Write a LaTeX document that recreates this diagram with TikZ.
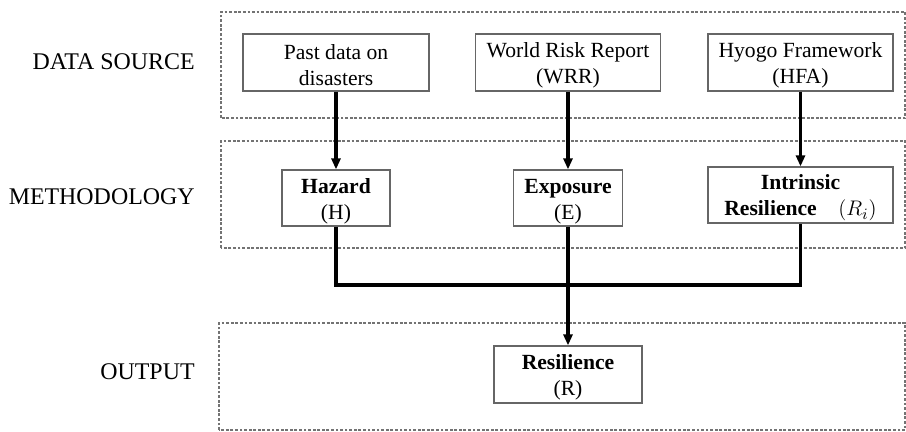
\documentclass[tikz,border=0pt]{standalone}
\usepackage{fontspec}
\setmainfont{Liberation Serif}
\usetikzlibrary{arrows.meta}

\newcommand{\topline}{\rule{0pt}{12pt}}

\tikzset{
  panel/.style={draw=black!55, line width=0.6pt, dash pattern=on 1.6pt off 1pt},
  box/.style={draw=black!60, line width=0.7pt, align=center, inner sep=0pt,
    font=\fontsize{12.3}{14.8}\selectfont},
  side/.style={anchor=east, inner sep=0pt, font=\fontsize{13.6}{16}\selectfont},
  link/.style={line width=1.9pt},
  flow/.style={link, -{Triangle[length=0.22cm,width=0.18cm]}}
}

\begin{document}
\begin{tikzpicture}
  \useasboundingbox (0,0) rectangle (18.12,8.62);
  % the three bands
  \draw[panel] (4.42,6.26) rectangle (18.10,8.38);
  \draw[panel] (4.42,3.66) rectangle (18.10,5.80);
  \draw[panel] (4.38,0.02) rectangle (18.10,2.16);
  \node[side] (l1) at (3.90,7.38) {DATA SOURCE};
  \node[side] (l2) at (3.90,4.68) {METHODOLOGY};
  \node[side] (l3) at (3.90,1.18) {OUTPUT};
  % data sources
  \node[box, minimum width=3.72cm, minimum height=1.14cm] (past) at (6.72,7.37) {\topline Past data on\\disasters};
  \node[box, minimum width=3.70cm, minimum height=1.14cm] (wrr) at (11.36,7.37) {\topline World Risk Report\\(WRR)};
  \node[box, minimum width=3.70cm, minimum height=1.14cm] (hfa) at (16.01,7.37) {\topline Hyogo Framework\\(HFA)};
  % methodology
  \node[box, minimum width=2.16cm, minimum height=1.12cm] (haz) at (6.72,4.66) {\topline\textbf{Hazard}\\(H)};
  \node[box, minimum width=2.18cm, minimum height=1.12cm] (expo) at (11.36,4.66) {\topline\textbf{Exposure}\\(E)};
  \node[box, minimum width=3.70cm, minimum height=1.12cm] (intr) at (16.01,4.72) {\topline\textbf{Intrinsic}\\\textbf{Resilience}\quad$(R_i)$};
  % output
  \node[box, minimum width=2.96cm, minimum height=1.14cm] (res) at (11.36,1.13) {\topline\textbf{Resilience}\\(R)};
  \coordinate (jn) at (11.36,2.92);
  \draw[flow] (past) -- (haz);
  \draw[flow] (wrr) -- (expo);
  \draw[flow] (hfa) -- (intr);
  \draw[link] (haz.south) |- (jn) -| (intr.south);
  \draw[flow] (expo) -- (res);
\end{tikzpicture}
\end{document}
